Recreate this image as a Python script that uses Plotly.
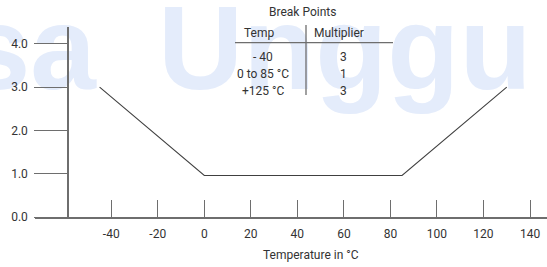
import plotly.graph_objects as go

# ---- data ----
temperature = [-45, 0, 85, 130]
multiplier = [3.0, 0.96, 0.96, 3.0]

x_tick_vals = [-40, -20, 0, 20, 40, 60, 80, 100, 120, 140]
x_tick_text = ["-40", "-20", "0", "20", "40", "60", "80", "100", "120", "140"]
y_tick_vals = [0, 1, 2, 3, 4]
y_tick_text = ["0.0", "1.0", "2.0", "3.0", "4.0"]

table_title = "Break Points"
table_headers = ["Temp", "Multiplier"]
table_temps = ["- 40", "0 to 85 °C", "+125 °C"]
table_mults = ["3", "1", "3"]

x_title = "Temperature in °C"

# ---- layout geometry ----
W, H = 547, 267
ML, MR, MT, MB = 35, 0, 27, 50
PW, PH = W - ML - MR, H - MT - MB


def px(p):
    return (p - ML) / PW


def py(p):
    return (H - MB - p) / PH


FONT = "Roboto, Liberation Sans, Arial, sans-serif"
TXT = "#333333"
AX = "#6e6e6e"

fig = go.Figure()
fig.add_trace(go.Scatter(
    x=temperature, y=multiplier, mode="lines",
    line=dict(color="#404040", width=1.1), hoverinfo="skip", showlegend=False,
))

annotations = []
shapes = []

# watermark (drawn below everything)
wm_color = "#e4ecfb"
shapes.append(dict(type="rect", xref="paper", yref="paper",
                   x0=px(-60), x1=px(102), y0=py(66.7), y1=py(6.7),
                   line=dict(width=0), fillcolor="rgba(0,0,0,0)", layer="below",
                   label=dict(text="sa", textposition="middle right",
                              font=dict(family="Liberation Sans, Arial", size=118,
                                        color=wm_color, weight="bold"))))
shapes.append(dict(type="rect", xref="paper", yref="paper",
                   x0=px(152), x1=px(600), y0=py(66.7), y1=py(6.7),
                   line=dict(width=0), fillcolor="rgba(0,0,0,0)", layer="below",
                   label=dict(text="Unggu", textposition="middle left",
                              font=dict(family="Liberation Sans, Arial", size=118,
                                        color=wm_color, weight="bold"))))

# table
def ann(text, x, y):
    annotations.append(dict(text=text, x=px(x), y=py(y), xref="paper", yref="paper",
                            xanchor="center", yanchor="middle", showarrow=False,
                            font=dict(family=FONT, size=12, color=TXT)))


ann(table_title, 302.5, 11.7)
ann(table_headers[0], 258.5, 33)
ann(table_headers[1], 339, 33)
row_y = [57, 74, 90.7]
for t, m, yy in zip(table_temps, table_mults, row_y):
    ann(t, 263, yy)
    ann(m, 343, yy)

shapes.append(dict(type="line", xref="paper", yref="paper",
                   x0=px(235), x1=px(393), y0=py(42.7), y1=py(42.7),
                   line=dict(color=AX, width=1.3)))
shapes.append(dict(type="line", xref="paper", yref="paper",
                   x0=px(306), x1=px(306), y0=py(25), y1=py(95),
                   line=dict(color=AX, width=1.3)))

# x axis title
annotations.append(dict(text=x_title, x=px(311), y=py(255), xref="paper", yref="paper",
                        xanchor="center", yanchor="middle", showarrow=False,
                        font=dict(family=FONT, size=12, color=TXT)))

x_per_px = 20 / 46.53
x0_px = 204.3
x_range = [(ML - x0_px) * x_per_px, (W - MR - x0_px) * x_per_px]
y_per_px = 1 / 43.3
y_range = [0, PH * y_per_px]

fig.update_layout(
    width=W, height=H,
    margin=dict(l=ML, r=MR, t=MT, b=MB, pad=0, autoexpand=False),
    paper_bgcolor="white", plot_bgcolor="rgba(0,0,0,0)",
    showlegend=False,
    font=dict(family=FONT, size=12, color=TXT),
    xaxis=dict(range=x_range, showgrid=False, zeroline=False, automargin=False,
               showline=True, linecolor=AX, linewidth=1.5,
               ticks="inside", ticklen=17, tickwidth=1.3, tickcolor=AX,
               tickvals=x_tick_vals, ticktext=x_tick_text,
               ticklabelstandoff=5,
               tickfont=dict(family=FONT, size=12, color=TXT)),
    yaxis=dict(range=y_range, showgrid=False, zeroline=False, automargin=False,
               anchor="free", position=px(68),
               showline=True, linecolor=AX, linewidth=1.5,
               ticks="outside", ticklen=33, tickwidth=1.3, tickcolor=AX,
               tickvals=y_tick_vals, ticktext=y_tick_text,
               ticklabelstandoff=4,
               tickfont=dict(family=FONT, size=12, color=TXT)),
    annotations=annotations,
    shapes=shapes,
)

fig.write_html(
    "out.html",
    config={"displayModeBar": False},
    post_script="document.body.style.margin='0';document.body.style.overflow='hidden';",
)
